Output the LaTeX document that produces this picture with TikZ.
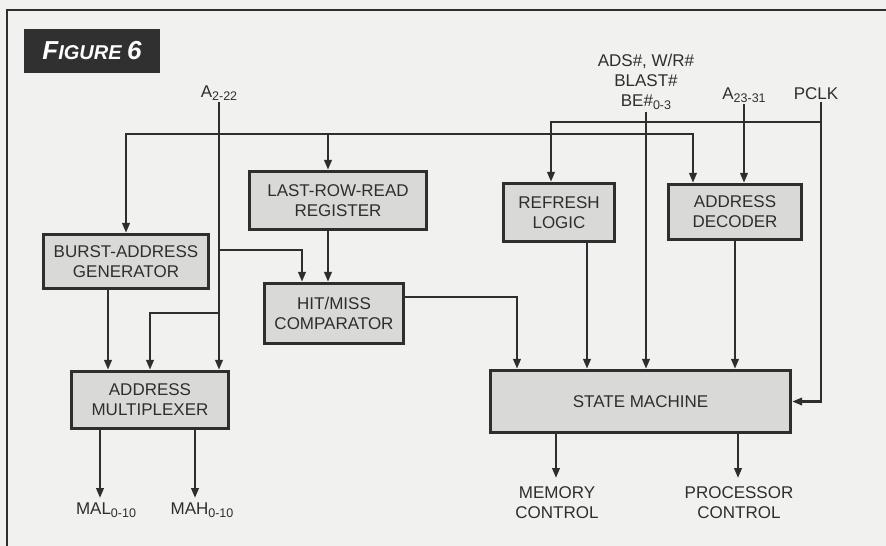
\documentclass[tikz,border=0pt]{standalone}
\usepackage{fontspec}
\setmainfont{Liberation Sans}
\usetikzlibrary{arrows.meta,calc,positioning}
\definecolor{Paper}{HTML}{F1F1EF}
\definecolor{Ink}{HTML}{2E2E2E}
\definecolor{Tag}{HTML}{303030}
\definecolor{Block}{HTML}{D9D9D7}
\newcommand{\sigsub}[1]{\raisebox{-3pt}{\fontsize{12.5}{12.5}\selectfont#1}}

\begin{document}
\begin{tikzpicture}[x=1pt,y=-1pt,
    blk/.style={draw=Ink,line width=3.4pt,fill=Block,text=Ink,align=center,inner sep=0pt,font=\fontsize{17}{20}\selectfont},
    sig/.style={text=Ink,align=center,inner sep=0pt,font=\fontsize{17}{20}\selectfont},
    wire/.style={draw=Ink,line width=2.3pt},
    arr/.style={wire,-{Triangle[length=10pt,width=7.5pt]}}]
  \useasboundingbox(0,0)rectangle(886,546);
  \fill[Paper](0,0)rectangle(886,546);
  \draw[Ink,line width=2pt](886,10)--(7,10)--(7,546);
  \node[fill=Tag,minimum width=136,minimum height=44,inner sep=0pt,text=white,font=\bfseries\itshape](fig)at(92,51)
    {\fontsize{26}{26}\selectfont F\fontsize{20}{20}\selectfont IGURE \fontsize{26}{26}\selectfont 6};
  % blocks
  \node[blk,minimum width=177,minimum height=58](lrr)at(338,200.5){LAST-ROW-READ\\REGISTER};
  \node[blk,minimum width=165,minimum height=54](bag)at(126,261.5){BURST-ADDRESS\\GENERATOR};
  \node[blk,minimum width=139,minimum height=60](hmc)at(334,313.5){HIT/MISS\\COMPARATOR};
  \node[blk,minimum width=157,minimum height=57](mux)at(150,400){ADDRESS\\MULTIPLEXER};
  \node[blk,minimum width=111,minimum height=58](ref)at(559,212.5){REFRESH\\LOGIC};
  \node[blk,minimum width=133,minimum height=55](dec)at(735,212){ADDRESS\\DECODER};
  \node[blk,minimum width=300,minimum height=62](sm)at(640.5,401.5){STATE MACHINE};
  % signal names
  \node[sig,anchor=base](a2)at(219,97){A\sigsub{2-22}};
  \node[sig,anchor=north](ads)at(646,54){ADS\#, W/R\#\\BLAST\#\\BE\#\sigsub{0-3}};
  \node[sig,anchor=base](a23)at(744,99){A\sigsub{23-31}};
  \node[sig,anchor=base](pclk)at(816,99){PCLK};
  \node[sig,anchor=base](mal)at(106,514){MAL\sigsub{0-10}};
  \node[sig,anchor=base](mah)at(202,514){MAH\sigsub{0-10}};
  \node[sig,anchor=north](mem)at(557,486){MEMORY\\CONTROL};
  \node[sig,anchor=north](proc)at(739,486){PROCESSOR\\CONTROL};
  % bend points
  \coordinate(busA)at(219,134);
  \coordinate(busB)at(693,134);
  \coordinate(lrrin)at(328,134);
  \coordinate(tapC)at(219,250);
  \coordinate(hmcin)at(302,250);
  \coordinate(tapM)at(219,313);
  \coordinate(muxin)at(150,313);
  \coordinate(bagout)at(108,290);
  \coordinate(smin)at(517,297);
  \coordinate(refout)at(587,243);
  \coordinate(clk)at(821,122);
  \coordinate(refin)at(551,122);
  \coordinate(malend)at(100,498);
  \coordinate(mahend)at(195,498);
  \coordinate(memend)at(556,478);
  \coordinate(procend)at(738,478);
  % address bus
  \draw[arr]([yshift=-2pt]a2.south)--(a2.south|-mux.north);
  \draw[arr](busA)-|(bag.north);
  \draw[arr](busA)--(busB)--(busB|-dec.north);
  \draw[arr](lrrin)--(lrrin|-lrr.north);
  \draw[arr](lrrin|-lrr.south)--(lrrin|-hmc.north);
  \draw[arr](tapC)--(hmcin)--(hmcin|-hmc.north);
  \draw[arr](tapM)--(muxin)--(muxin|-mux.north);
  \draw[arr](bagout|-bag.south)--(bagout|-mux.north);
  % into the state machine
  \draw[arr](hmc.east|-smin)--(smin)--(smin|-sm.north);
  \draw[arr](refout|-ref.south)--(refout|-sm.north);
  \draw[arr]([yshift=-2pt]ads.south)--(ads.south|-sm.north);
  \draw[arr]([yshift=-2pt]a23.south)--(a23.south|-dec.north);
  \draw[arr](dec.south)--(dec.south|-sm.north);
  \draw[arr]([yshift=-3pt]clk|-pclk.south)|-(sm.east);
  \draw[arr](clk)--(refin)--(refin|-ref.north);
  % outputs
  \draw[arr](malend|-mux.south)--(malend);
  \draw[arr](mahend|-mux.south)--(mahend);
  \draw[arr](memend|-sm.south)--(memend);
  \draw[arr](procend|-sm.south)--(procend);
\end{tikzpicture}
\end{document}
